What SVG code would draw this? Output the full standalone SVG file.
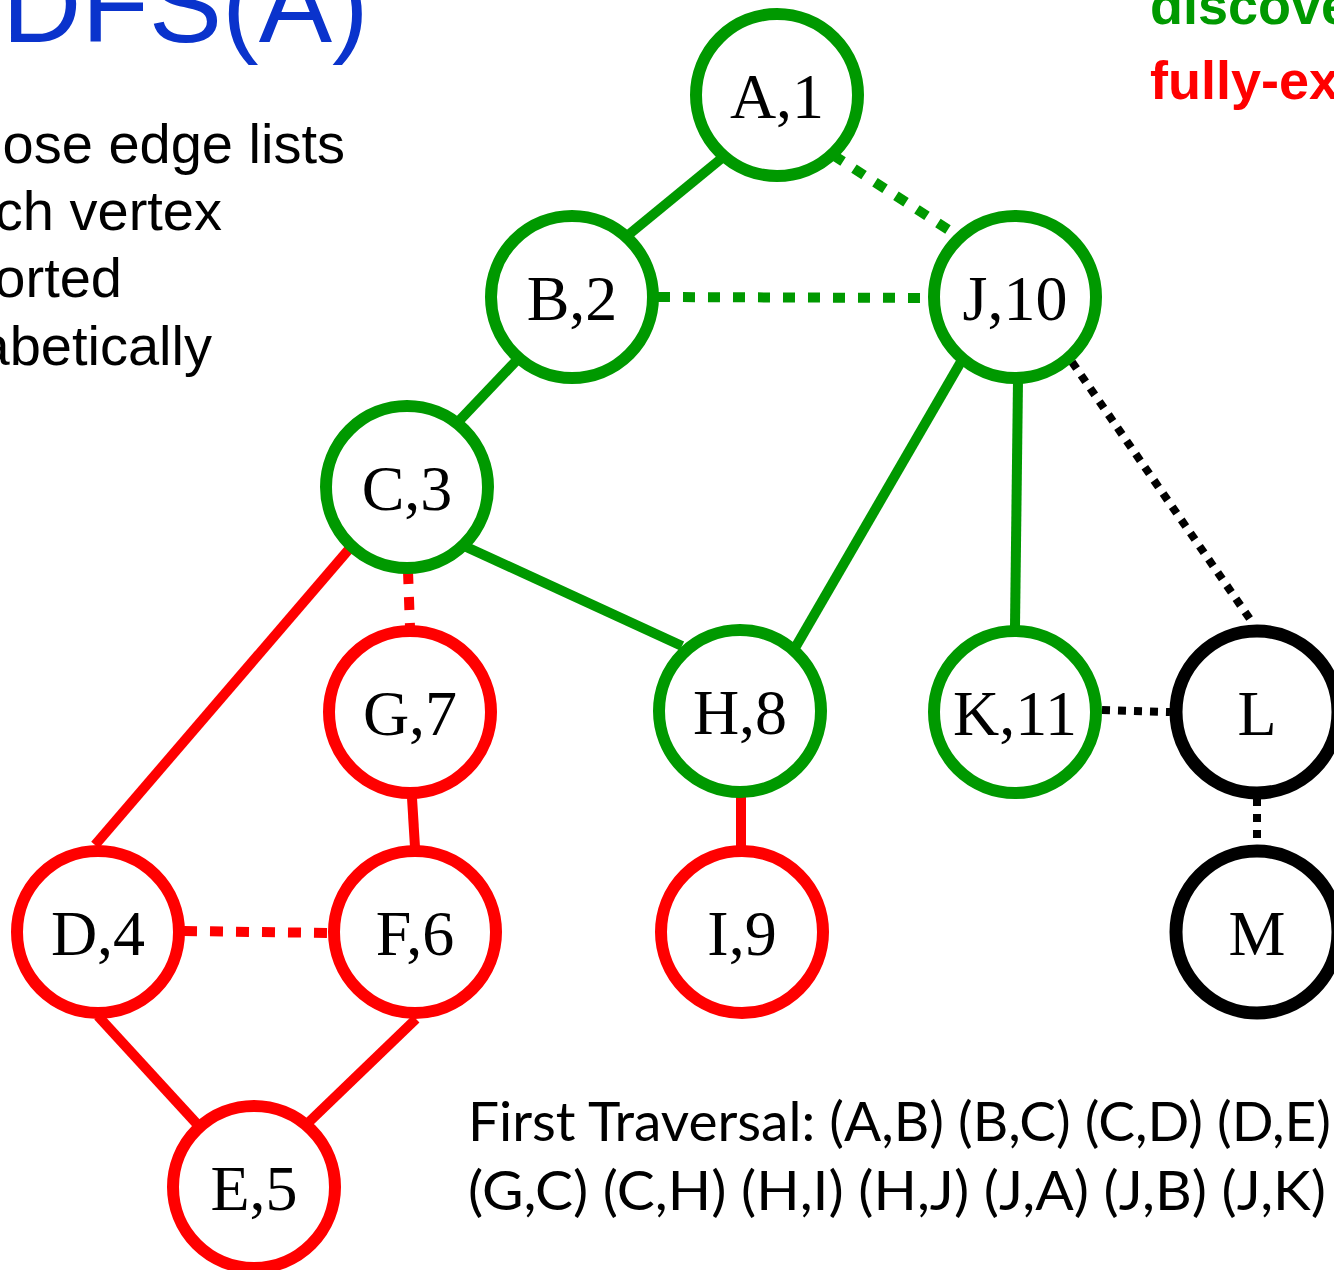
<svg xmlns="http://www.w3.org/2000/svg" width="1334" height="1270" viewBox="0 0 1334 1270">
<style>
.n{fill:#fff;stroke-width:12}
.g{stroke:#009900}
.r{stroke:#ff0000}
.k{stroke:#000;stroke-width:13}
.lbl{font-family:"Liberation Serif","Times New Roman",serif;font-size:64px;fill:#000;text-anchor:middle}
.e{fill:none;stroke-width:10;stroke-linecap:butt}
.eg{stroke:#009900}
.er{stroke:#ff0000}
.ek{stroke:#000;stroke-width:8}
.dg{stroke-dasharray:12 13}
.dr{stroke-dasharray:13 13}
.dk{stroke-dasharray:8 8}
.body{font-family:"Liberation Sans",Arial,sans-serif;font-size:56px;fill:#000;text-anchor:end}
.leg{font-family:"Liberation Sans",Arial,sans-serif;font-size:54px;font-weight:bold}
.trav{font-family:Lato,"Open Sans",sans-serif;font-size:54px;fill:#000}
</style>
<rect width="1334" height="1270" fill="#fff"/>
<text x="2" y="42" font-family="Liberation Sans,Arial,sans-serif" font-size="110" fill="#0a33cc">DFS(A)</text>
<text class="body" x="345" y="163">ose edge lists</text>
<text class="body" x="222" y="230">ch vertex</text>
<text class="body" x="122" y="297">orted</text>
<text class="body" x="212" y="365">abetically</text>
<text class="leg" x="1150" y="24" fill="#009900">discove</text>
<text class="leg" x="1150" y="99" fill="#ff0000">fully-ex</text>
<g id="connectors">
<line class="e eg" x1="722" y1="158" x2="627" y2="236"/>
<line class="e eg dg" x1="833" y1="155" x2="958" y2="236"/>
<line class="e eg dg" x1="658" y1="297" x2="930" y2="298"/>
<line class="e eg" x1="516" y1="361" x2="458" y2="422"/>
<line class="e eg" x1="962" y1="360" x2="795" y2="648"/>
<line class="e eg" x1="1018" y1="380" x2="1015" y2="627"/>
<line class="e ek dk" x1="1072" y1="362" x2="1252" y2="622"/>
<line class="e eg" x1="462" y1="545" x2="682" y2="646"/>
<line class="e er dr" x1="408" y1="571" x2="410" y2="627"/>
<line class="e er" x1="350" y1="548" x2="95" y2="845"/>
<line class="e er" x1="412" y1="798" x2="415" y2="847"/>
<line class="e er" x1="741" y1="795" x2="741" y2="847"/>
<line class="e er dr" x1="184" y1="931" x2="330" y2="933"/>
<line class="e er" x1="98" y1="1016" x2="197" y2="1124"/>
<line class="e er" x1="416" y1="1019" x2="309" y2="1122"/>
<line class="e ek dk" x1="1102" y1="710" x2="1170" y2="712"/>
<line class="e ek dk" x1="1257" y1="798" x2="1257" y2="847"/>
</g>
<g id="node-A"><circle class="n g" cx="777" cy="95" r="81"/><text class="lbl" x="777" y="118">A,1</text></g>
<g id="node-B"><circle class="n g" cx="572" cy="297" r="81"/><text class="lbl" x="572" y="320">B,2</text></g>
<g id="node-J"><circle class="n g" cx="1015" cy="297" r="81"/><text class="lbl" x="1015" y="320">J,10</text></g>
<g id="node-C"><circle class="n g" cx="407" cy="487" r="81"/><text class="lbl" x="407" y="510">C,3</text></g>
<g id="node-G"><circle class="n r" cx="410" cy="712" r="81"/><text class="lbl" x="410" y="735">G,7</text></g>
<g id="node-H"><circle class="n g" cx="740" cy="711" r="81"/><text class="lbl" x="740" y="734">H,8</text></g>
<g id="node-K"><circle class="n g" cx="1015" cy="712" r="81"/><text class="lbl" x="1015" y="735">K,11</text></g>
<g id="node-L"><circle class="n k" cx="1257" cy="712" r="81"/><text class="lbl" x="1257" y="735">L</text></g>
<g id="node-D"><circle class="n r" cx="98" cy="932" r="81"/><text class="lbl" x="98" y="955">D,4</text></g>
<g id="node-F"><circle class="n r" cx="415" cy="932" r="81"/><text class="lbl" x="415" y="955">F,6</text></g>
<g id="node-I"><circle class="n r" cx="742" cy="932" r="81"/><text class="lbl" x="742" y="955">I,9</text></g>
<g id="node-M"><circle class="n k" cx="1257" cy="932" r="81"/><text class="lbl" x="1257" y="955">M</text></g>
<g id="node-E"><circle class="n r" cx="254" cy="1187" r="81"/><text class="lbl" x="254" y="1210">E,5</text></g>
<text class="trav" x="468" y="1141" textLength="863" lengthAdjust="spacingAndGlyphs">First Traversal: (A,B) (B,C) (C,D) (D,E)</text>
<text class="trav" x="468" y="1210" textLength="858" lengthAdjust="spacingAndGlyphs">(G,C) (C,H) (H,I) (H,J) (J,A) (J,B) (J,K)</text>
</svg>
